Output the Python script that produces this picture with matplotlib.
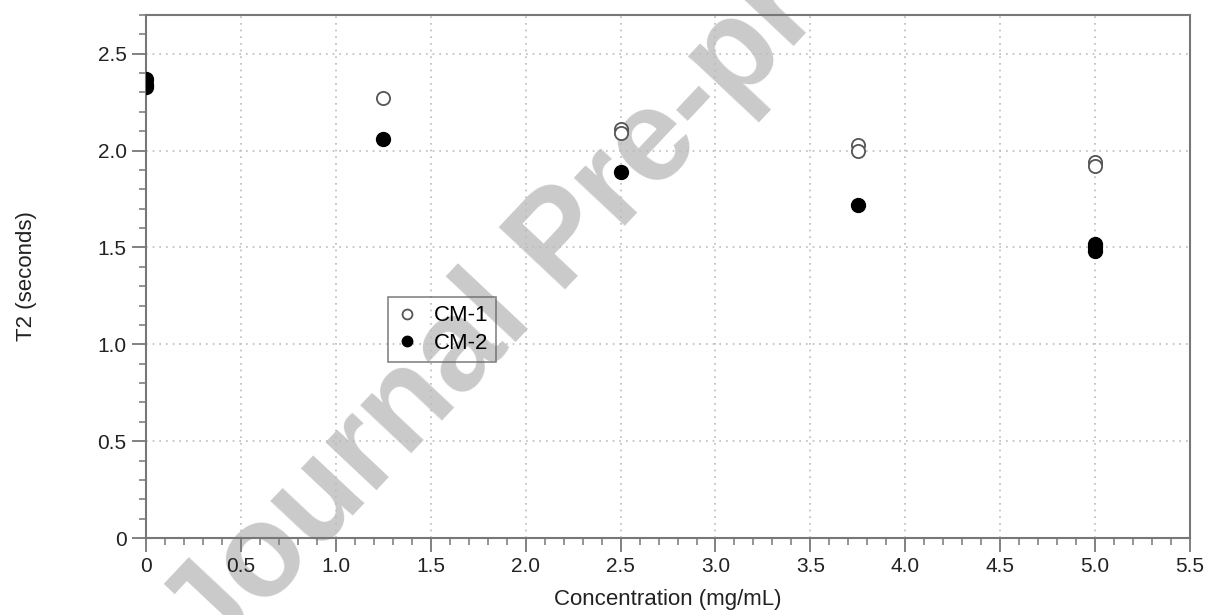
import numpy as np
import matplotlib.pyplot as plt
from matplotlib.ticker import MultipleLocator, FixedFormatter, FixedLocator

plt.rcParams['font.family'] = ['Liberation Sans', 'DejaVu Sans']

# T2 relaxation data
cm1_conc = [0, 0, 0, 1.25, 2.5, 2.5, 3.75, 3.75, 5.0, 5.0]
cm1_t2 = [2.36, 2.35, 2.34, 2.27, 2.11, 2.09, 2.03, 2.00, 1.94, 1.92]
cm2_conc = [0, 0, 0, 1.25, 2.5, 3.75, 5.0, 5.0, 5.0]
cm2_t2 = [2.37, 2.34, 2.33, 2.06, 1.89, 1.72, 1.52, 1.50, 1.48]

xticks = [0, 0.5, 1.0, 1.5, 2.0, 2.5, 3.0, 3.5, 4.0, 4.5, 5.0, 5.5]
xlabels = ['0', '0.5', '1.0', '1.5', '2.0', '2.5', '3.0', '3.5', '4.0', '4.5', '5.0', '5.5']
yticks = [0, 0.5, 1.0, 1.5, 2.0, 2.5]
ylabels = ['0', '0.5', '1.0', '1.5', '2.0', '2.5']

fig = plt.figure(figsize=(12.1, 6.15), dpi=100)
ax = fig.add_axes([0.1207, 0.1252, 0.8628, 0.8504])

ax.plot(cm1_conc, cm1_t2, 'o', ms=9.5, mfc='white', mec='#555555', mew=1.3, label='CM-1', zorder=3)
ax.plot(cm2_conc, cm2_t2, 'o', ms=10, mfc='black', mec='black', label='CM-2', zorder=4)

ax.set_xlim(0, 5.5)
ax.set_ylim(0, 2.7)
ax.xaxis.set_major_locator(FixedLocator(xticks))
ax.xaxis.set_major_formatter(FixedFormatter(xlabels))
ax.yaxis.set_major_locator(FixedLocator(yticks))
ax.yaxis.set_major_formatter(FixedFormatter(ylabels))
ax.xaxis.set_minor_locator(MultipleLocator(0.1))
ax.yaxis.set_minor_locator(MultipleLocator(0.1))

ax.tick_params(which='major', direction='out', length=10, width=1.3, color='#777777',
               labelsize=15, labelcolor='#222222', pad=4)
ax.tick_params(which='minor', direction='out', length=5, width=1.1, color='#777777')
ax.tick_params(top=False, right=False)

for s in ax.spines.values():
    s.set_color('#777777')
    s.set_linewidth(1.5)

ax.grid(True, which='major', linestyle=(0, (1, 3)), color='#bbbbbb', linewidth=1.2)
ax.set_axisbelow(True)

ax.set_xlabel('Concentration (mg/mL)', fontsize=16, color='#222222')
ax.set_ylabel('T2 (seconds)', fontsize=16, color='#222222')
ax.xaxis.set_label_coords(0.5, -0.0975)
ax.yaxis.set_label_coords(-0.104, 0.5)

leg = ax.legend(loc='lower left', bbox_to_anchor=(0.2318, 0.3365), borderaxespad=0,
                fontsize=16, frameon=True, fancybox=False, handletextpad=0.7,
                borderpad=0.36, labelspacing=0.3, handlelength=1.0, markerscale=0.75)
leg.get_frame().set_edgecolor('#666666')
leg.get_frame().set_facecolor('none')
leg.get_frame().set_linewidth(1.2)
leg.set_zorder(5)

# watermark (under the ticks and marks, over the background)
ax.text(212 / 1210, (615 - 666) / 615, 'Journal Pre-proof', transform=fig.transFigure,
        fontsize=94, fontweight='bold', color='#cacaca', rotation=46.8,
        rotation_mode='anchor', ha='left', va='baseline', zorder=0.3, clip_on=False)

fig.savefig('out.png', dpi=100)
